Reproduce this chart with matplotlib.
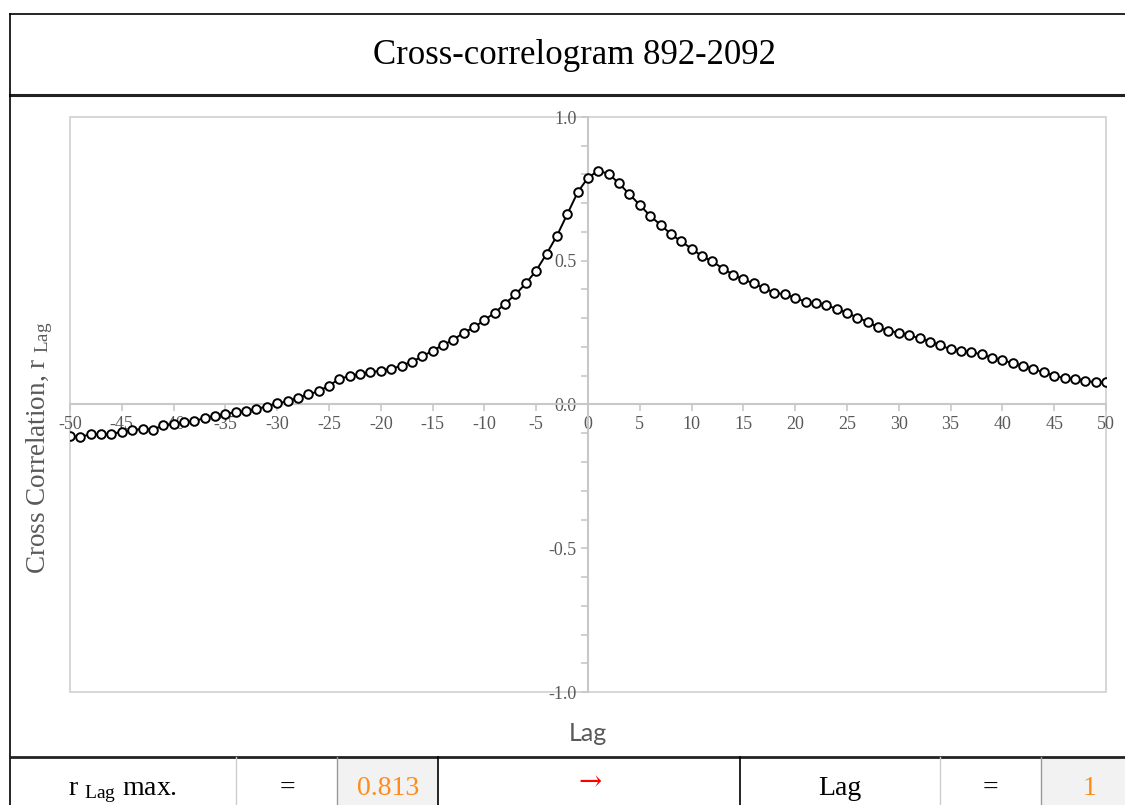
import matplotlib
matplotlib.use("Agg")
import matplotlib.pyplot as plt
from matplotlib.lines import Line2D
from matplotlib.patches import Rectangle
from matplotlib.ticker import MultipleLocator

lags = list(range(-50, 51))
r_lag = [
    -0.111, -0.112, -0.104, -0.104, -0.101, -0.096, -0.090, -0.084, -0.087, -0.073,
    -0.067, -0.061, -0.058, -0.047, -0.040, -0.032, -0.027, -0.023, -0.015, -0.007,
    0.004, 0.011, 0.023, 0.035, 0.046, 0.066, 0.089, 0.099, 0.106, 0.112,
    0.118, 0.124, 0.135, 0.149, 0.167, 0.187, 0.207, 0.225, 0.250, 0.268,
    0.294, 0.319, 0.351, 0.383, 0.421, 0.466, 0.524, 0.587, 0.662, 0.738,
    0.789, 0.813, 0.802, 0.769, 0.731, 0.694, 0.656, 0.625, 0.593, 0.567,
    0.542, 0.516, 0.498, 0.473, 0.452, 0.435, 0.421, 0.404, 0.389, 0.383,
    0.371, 0.357, 0.352, 0.345, 0.333, 0.319, 0.302, 0.288, 0.268, 0.256,
    0.250, 0.241, 0.230, 0.219, 0.206, 0.192, 0.187, 0.181, 0.175, 0.162,
    0.155, 0.143, 0.135, 0.123, 0.112, 0.100, 0.092, 0.089, 0.083, 0.077,
    0.077,
]
title = "Cross-correlogram 892-2092"
r_max_text = "0.813"
lag_max_text = "1"

W, H = 1125, 805
serif = "Liberation Serif"
grey = "#595959"
orange = "#ff8c1a"

fig = plt.figure(figsize=(W / 100, H / 100), dpi=100)


def fx(x):
    return x / W


def fy(y):
    return 1 - y / H


ax = fig.add_axes([fx(70), fy(692), fx(1106) - fx(70), fy(117) - fy(692)])
ax.set_xlim(-50, 50)
ax.set_ylim(-1, 1)

ax.plot(lags, r_lag, color="black", lw=1.4, zorder=3)
ax.plot(lags, r_lag, "o", ms=6.2, mfc="white", mec="black", mew=1.4, zorder=4)

# frame of the plot area
ax.add_patch(Rectangle((0, 0), 1, 1, transform=ax.transAxes, fill=False,
                       ec="#d0d0d0", lw=1.2, clip_on=False, zorder=1))
for s in ["top", "right"]:
    ax.spines[s].set_visible(False)
for s in ["left", "bottom"]:
    ax.spines[s].set_position(("data", 0))
    ax.spines[s].set_color("#c8c8c8")
    ax.spines[s].set_linewidth(1.5)
    ax.spines[s].set_zorder(2)

ax.xaxis.set_major_locator(MultipleLocator(5))
ax.yaxis.set_major_locator(MultipleLocator(0.5))
ax.yaxis.set_minor_locator(MultipleLocator(0.1))
ax.tick_params(axis="x", which="major", direction="out", length=5, color="#c8c8c8",
               width=1.2, labelsize=13, labelcolor=grey, pad=3)
ax.tick_params(axis="y", which="both", direction="out", length=5, color="#c8c8c8",
               width=1.2, labelsize=13, labelcolor=grey, pad=3)
ax.set_xticks(range(-50, 51, 5))
ax.set_xticklabels([str(v) for v in range(-50, 51, 5)], fontfamily=serif)
yt = [-1.0, -0.5, 0.0, 0.5, 1.0]
ax.set_yticks(yt)
ax.set_yticklabels([f"{v:.1f}" for v in yt], fontfamily=serif)

fig.text(fx(40), fy(448), r"Cross Correlation, $\mathregular{r_{\ Lag}}$",
         rotation=90, ha="center", va="center", fontsize=19.5, color=grey,
         fontfamily=serif)
fig.text(fx(588), fy(733), "Lag", ha="center", va="center", fontsize=18,
         color=grey, fontfamily="Lato")

# title box
fig.text(fx(574), fy(55), title, ha="center", va="center", fontsize=25,
         fontfamily=serif, color="black")
fig.add_artist(Line2D([fx(10), 1], [fy(14), fy(14)], color="black", lw=1.2))
fig.add_artist(Line2D([fx(10), 1], [fy(95), fy(95)], color="#222222", lw=2.2))
fig.add_artist(Line2D([fx(10), fx(10)], [fy(14), 0], color="black", lw=1.2))

# bottom summary row
fig.add_artist(Rectangle((fx(337), 0), fx(438) - fx(337), fy(757), color="#f2f2f2", lw=0))
fig.add_artist(Rectangle((fx(1041), 0), 1 - fx(1041), fy(757), color="#f2f2f2", lw=0))
fig.add_artist(Line2D([fx(10), 1], [fy(757), fy(757)], color="#222222", lw=2))
dividers = [(236, "#cccccc", 1), (337, "#999999", 1), (438, "black", 1.2),
            (740, "black", 1.2), (940, "#cccccc", 1), (1041, "#999999", 1)]
for x, c, lw in dividers:
    fig.add_artist(Line2D([fx(x), fx(x)], [fy(757), 0], color=c, lw=lw))

by = fy(795)
fs = 20
fig.text(fx(123), by, r"r $\mathregular{_{Lag}}$ max.", ha="center", va="baseline",
         fontsize=fs, fontfamily=serif)
fig.text(fx(287), by, "=", ha="center", va="baseline", fontsize=fs, fontfamily=serif)
fig.text(fx(388), by, r_max_text, ha="center", va="baseline", fontsize=fs,
         fontfamily=serif, color=orange)
fig.text(fx(590), fy(783), "\u2192", ha="center", va="center", fontsize=fs,
         fontfamily="DejaVu Serif", color="red")
fig.text(fx(840), by, "Lag", ha="center", va="baseline", fontsize=fs, fontfamily=serif)
fig.text(fx(990), by, "=", ha="center", va="baseline", fontsize=fs, fontfamily=serif)
fig.text(fx(1090), by, lag_max_text, ha="center", va="baseline", fontsize=fs,
         fontfamily=serif, color=orange)

fig.savefig("out.png", dpi=100)
plt.close(fig)
